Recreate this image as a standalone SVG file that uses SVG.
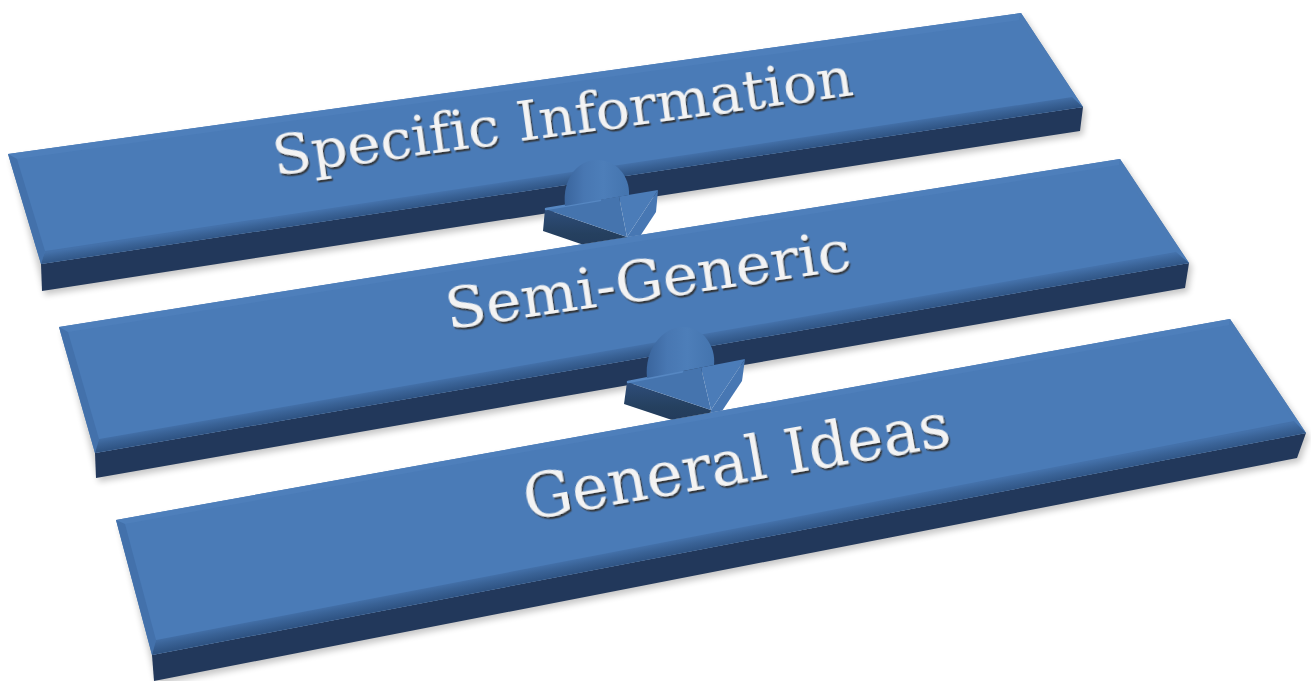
<svg xmlns="http://www.w3.org/2000/svg" width="1311" height="681" viewBox="0 0 1311 681">
<defs>
<style>
.face{fill:#4a7bb7}
.bev-top{fill:#4e7fbb}
.bev-left{fill:#4371ab}
.bev-right{fill:#4b7bb6}
.front{fill:#22385b}
.shadow{fill:#000;opacity:.22;filter:url(#soft)}
.label{font-family:"DejaVu Serif","Liberation Serif",serif;fill:#f3f3f3;text-anchor:middle;filter:url(#txtsh);font-variant-ligatures:none;font-feature-settings:"liga" 0}
.a-dark{fill:url(#arrowDark)}
.a-left{fill:#4574ae}
.a-right{fill:#4b7cb8}
.a-side{fill:#4777b3}
.a-dome{fill:url(#domeGrad)}
.a-hi{fill:none;stroke:#5687c2;stroke-width:2.5;stroke-linecap:round}
</style>
<filter id="soft" x="-5%" y="-20%" width="110%" height="140%"><feGaussianBlur stdDeviation="3"/></filter>
<filter id="txtsh" x="-5%" y="-30%" width="110%" height="160%"><feDropShadow dx="1.3" dy="2.4" stdDeviation="0.7" flood-color="#333333" flood-opacity="0.9"/></filter>
<linearGradient id="bb1" gradientUnits="userSpaceOnUse" x1="560" y1="174" x2="561.8" y2="185.8"><stop offset="0" stop-color="#4471aa"/><stop offset="0.45" stop-color="#3a6397"/><stop offset="1" stop-color="#2f5484"/></linearGradient>
<linearGradient id="bb2" gradientUnits="userSpaceOnUse" x1="637.8" y1="345.5" x2="640" y2="358.3"><stop offset="0" stop-color="#4471aa"/><stop offset="0.45" stop-color="#3a6397"/><stop offset="1" stop-color="#2f5484"/></linearGradient>
<linearGradient id="bb3" gradientUnits="userSpaceOnUse" x1="727.4" y1="530.1" x2="730" y2="543.8"><stop offset="0" stop-color="#4471aa"/><stop offset="0.45" stop-color="#3a6397"/><stop offset="1" stop-color="#2f5484"/></linearGradient>
<linearGradient id="arrowDark" x1="0" y1="0" x2="0" y2="1"><stop offset="0" stop-color="#2e4d7a"/><stop offset="0.5" stop-color="#25405f"/><stop offset="1" stop-color="#213759"/></linearGradient>
<linearGradient id="domeGrad" x1="0" y1="0" x2="1" y2="0"><stop offset="0" stop-color="#3a659d"/><stop offset="0.3" stop-color="#4877b2"/><stop offset="0.6" stop-color="#4d7eb9"/><stop offset="1" stop-color="#4474ae"/></linearGradient>
<clipPath id="above2"><polygon points="0,0 1311,0 1311,128.8 0,336.3"/></clipPath>
<clipPath id="above3"><polygon points="0,0 1311,0 1311,304.4 0,540.9"/></clipPath>
</defs>
<rect width="1311" height="681" fill="#ffffff"/>

<g id="node-specific-information">
<polygon class="shadow" points="11,158 1024,17 1086,111 1083,135 45,295"/>
<polygon class="front" points="41,264 1083,107 1080,131 42,291"/>
<polygon class="face" points="8,154 1021,13 1083,107 41,264"/>
<polygon class="bev-top" points="8,154 1021,13 1019,20 17,159"/>
<polygon class="bev-left" points="8,154 17,159 45,251 41,264"/>
<polygon class="bev-right" points="1021,13 1083,107 1072,97 1019,20"/>
<polygon fill="url(#bb1)" points="41,264 1083,107 1072,97 45,251"/>
<text class="label" font-size="54" textLength="585" lengthAdjust="spacingAndGlyphs" transform="translate(565,135) rotate(-7.9)">Specific Information</text>
</g>

<g id="node-semi-generic">
<polygon class="shadow" points="62,331 1123,163 1192,267 1188,292 99,482"/>
<polygon class="front" points="95,453 1189,263 1185,288 96,478"/>
<polygon class="face" points="59,327 1120,159 1189,263 95,453"/>
<polygon class="bev-top" points="59,327 1120,159 1119,165 68,332"/>
<polygon class="bev-left" points="59,327 68,332 99,439 95,453"/>
<polygon class="bev-right" points="1120,159 1189,263 1176,252 1119,165"/>
<polygon fill="url(#bb2)" points="95,453 1189,263 1176,252 99,439"/>
<text class="label" font-size="56" textLength="409" lengthAdjust="spacingAndGlyphs" transform="translate(650.5,299) rotate(-8.4)">Semi-Generic</text>
</g>

<g id="node-general-ideas">
<polygon class="shadow" points="119,524 1233,323 1309,437 1300,462 157,685"/>
<polygon class="front" points="152,655 1306,433 1297,458 154,681"/>
<polygon class="face" points="116,520 1230,319 1306,433 152,655"/>
<polygon class="bev-top" points="116,520 1230,319 1229,325 125,524"/>
<polygon class="bev-left" points="116,520 125,524 156,640 152,655"/>
<polygon class="bev-right" points="1230,319 1306,433 1294,421 1229,325"/>
<polygon fill="url(#bb3)" points="152,655 1306,433 1294,421 156,640"/>
<text class="label" font-size="61" textLength="432" lengthAdjust="spacingAndGlyphs" transform="translate(740,482.5) rotate(-10)">General Ideas</text>
</g>

<g id="connectors">
<g id="arrow-1" clip-path="url(#above2)">
<polygon class="a-dark" points="545,209 627,237 625,259 543,231"/>
<polygon class="a-side" points="658,190 656,212 625,259 627,237"/>
<polygon class="a-left" points="545,209 619,196.6 627,237"/>
<polygon class="a-right" points="619,196.6 658,190 627,237"/>
<path class="a-hi" d="M546,209 L600,200"/>
<path class="a-dome" d="M565,206 C562,178 578,160 597,160 C616,160 630,176 629,195 Z"/>
</g>
<g id="arrow-2" clip-path="url(#above3)">
<polygon class="a-dark" points="627,382 711,410 708,432 624,404"/>
<polygon class="a-side" points="745,359 742,381 708,432 711,410"/>
<polygon class="a-left" points="627,382 701,367.6 711,410"/>
<polygon class="a-right" points="701,367.6 745,359 711,410"/>
<path class="a-hi" d="M628,382 L682,371.5"/>
<path class="a-dome" d="M647,378 C644,350 662,327 683,327 C703,327 716,346 714,365 Z"/>
</g>
</g>
</svg>
